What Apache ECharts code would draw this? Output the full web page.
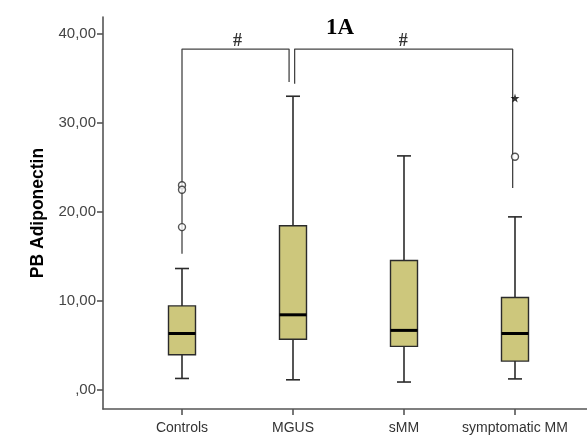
<!DOCTYPE html>
<html><head><meta charset="utf-8">
<script src="https://cdn.jsdelivr.net/npm/echarts@6/dist/echarts.min.js"></script>
<style>html,body{margin:0;padding:0;background:#fff}#c{width:587px;height:445px}</style>
</head><body><div id="c"></div>
<script>
const categories = ['Controls', 'MGUS', 'sMM', 'symptomatic MM'];
// [min whisker, Q1, median, Q3, max whisker]
const boxStats = [
  [1.3, 3.97, 6.35, 9.45, 13.65],
  [1.15, 5.7, 8.45, 18.45, 33.0],
  [0.9, 4.9, 6.7, 14.55, 26.3],
  [1.25, 3.25, 6.35, 10.4, 19.45]
];
const outliers = [[0, 23.0], [0, 22.5], [0, 18.3], [3, 26.2]];
const extremes = [[3, 32.8]];
const yTicks = [0, 10, 20, 30, 40];
const bracket1 = [[0, 15.3], [0, 38.3], [0.965, 38.3], [0.965, 34.6]];
const bracket2 = [[1.015, 34.4], [1.015, 38.3], [2.98, 38.3], [2.98, 22.7]];
const hashMarks = [[0.5, 39.2], [1.995, 39.2]];

const yMin = -2.13, yMax = 41.9;
const boxData = boxStats.map((s, i) => [i].concat(s));

function renderBox(params, api) {
  const i = api.value(0);
  const pMin = api.coord([i, api.value(1)]);
  const pQ1 = api.coord([i, api.value(2)]);
  const pMed = api.coord([i, api.value(3)]);
  const pQ3 = api.coord([i, api.value(4)]);
  const pMax = api.coord([i, api.value(5)]);
  const hw = 13.5, cw = 7;
  const cx = pMed[0];
  const ls = { stroke: '#2b2b2b', lineWidth: 1.6 };
  return {
    type: 'group',
    children: [
      { type: 'line', shape: { x1: cx, y1: pMax[1], x2: cx, y2: pQ3[1] }, style: ls },
      { type: 'line', shape: { x1: cx, y1: pQ1[1], x2: cx, y2: pMin[1] }, style: ls },
      { type: 'line', shape: { x1: cx - cw, y1: pMax[1], x2: cx + cw, y2: pMax[1] }, style: ls },
      { type: 'line', shape: { x1: cx - cw, y1: pMin[1], x2: cx + cw, y2: pMin[1] }, style: ls },
      { type: 'rect', shape: { x: cx - hw, y: pQ3[1], width: hw * 2, height: pQ1[1] - pQ3[1] },
        style: { fill: '#cdc77c', stroke: '#2b2b2b', lineWidth: 1.4 } },
      { type: 'line', shape: { x1: cx - hw, y1: pMed[1], x2: cx + hw, y2: pMed[1] },
        style: { stroke: '#000', lineWidth: 3 } }
    ]
  };
}

const chart = echarts.init(document.getElementById('c'));
chart.setOption({
  animation: false,
  title: {
    text: '1A', left: 335, top: 12, textAlign: 'center',
    textStyle: { fontFamily: 'Liberation Serif', fontWeight: 'bold', fontSize: 23, color: '#000' }
  },
  grid: [
    { left: 103, right: 0, top: 17, bottom: 36 },
    { left: 126.5, width: 444, top: 17, bottom: 36 }
  ],
  xAxis: [
    { type: 'value', gridIndex: 0, min: -0.712, max: 3.65,
      axisLine: { show: true, onZero: false, lineStyle: { color: '#555', width: 1.6 } },
      axisTick: { show: false }, axisLabel: { show: false }, splitLine: { show: false } },
    { type: 'category', gridIndex: 1, data: categories, boundaryGap: true,
      axisLine: { show: false, onZero: false },
      axisTick: { show: true, alignWithLabel: true, interval: 0, length: 6, lineStyle: { color: '#555', width: 1.6 } },
      axisLabel: { interval: 0, color: '#333', fontFamily: 'Liberation Sans', fontSize: 14, margin: 12 } }
  ],
  yAxis: [
    { type: 'value', gridIndex: 0, min: yMin, max: yMax,
      name: 'PB Adiponectin', nameLocation: 'middle', nameGap: 52,
      nameTextStyle: { fontFamily: 'Liberation Sans', fontWeight: 'bold', fontSize: 17.5, color: '#000' },
      axisLine: { show: true, onZero: false, lineStyle: { color: '#555', width: 1.6 } },
      axisTick: { show: true, length: 6, customValues: yTicks, lineStyle: { color: '#555', width: 1.6 } },
      axisLabel: { customValues: yTicks, color: '#444', fontFamily: 'Liberation Sans', fontSize: 15, margin: 7,
        formatter: v => v === 0 ? ',00' : v.toFixed(2).replace('.', ',') },
      splitLine: { show: false } },
    { type: 'value', gridIndex: 1, min: yMin, max: yMax, show: false, splitLine: { show: false } }
  ],
  series: [
    { type: 'custom', xAxisIndex: 1, yAxisIndex: 1, data: boxData, renderItem: renderBox,
      encode: { x: 0, y: [1, 2, 3, 4, 5] }, z: 3 },
    { type: 'scatter', xAxisIndex: 1, yAxisIndex: 1, data: outliers, symbol: 'circle', symbolSize: 7,
      itemStyle: { color: '#fff', borderColor: '#2b2b2b', borderWidth: 1.4 }, z: 5 },
    { type: 'scatter', xAxisIndex: 1, yAxisIndex: 1, data: extremes,
      symbol: 'path://M50,0 L61,35 L98,35 L68,57 L79,91 L50,70 L21,91 L32,57 L2,35 L39,35 Z',
      symbolSize: 9, itemStyle: { color: '#000' }, z: 5 },
    { type: 'line', xAxisIndex: 0, yAxisIndex: 0, data: bracket1, symbol: 'none',
      lineStyle: { color: '#444', width: 1.3 }, z: 2 },
    { type: 'line', xAxisIndex: 0, yAxisIndex: 0, data: bracket2, symbol: 'none',
      lineStyle: { color: '#444', width: 1.3 }, z: 2 },
    { type: 'scatter', xAxisIndex: 0, yAxisIndex: 0, data: hashMarks, symbol: 'circle', symbolSize: 1,
      itemStyle: { color: 'rgba(0,0,0,0)' },
      label: { show: true, position: 'inside', formatter: '#', fontFamily: 'Liberation Serif', fontWeight: 'bold', fontSize: 18, color: '#000' } }
  ]
});
</script></body></html>
